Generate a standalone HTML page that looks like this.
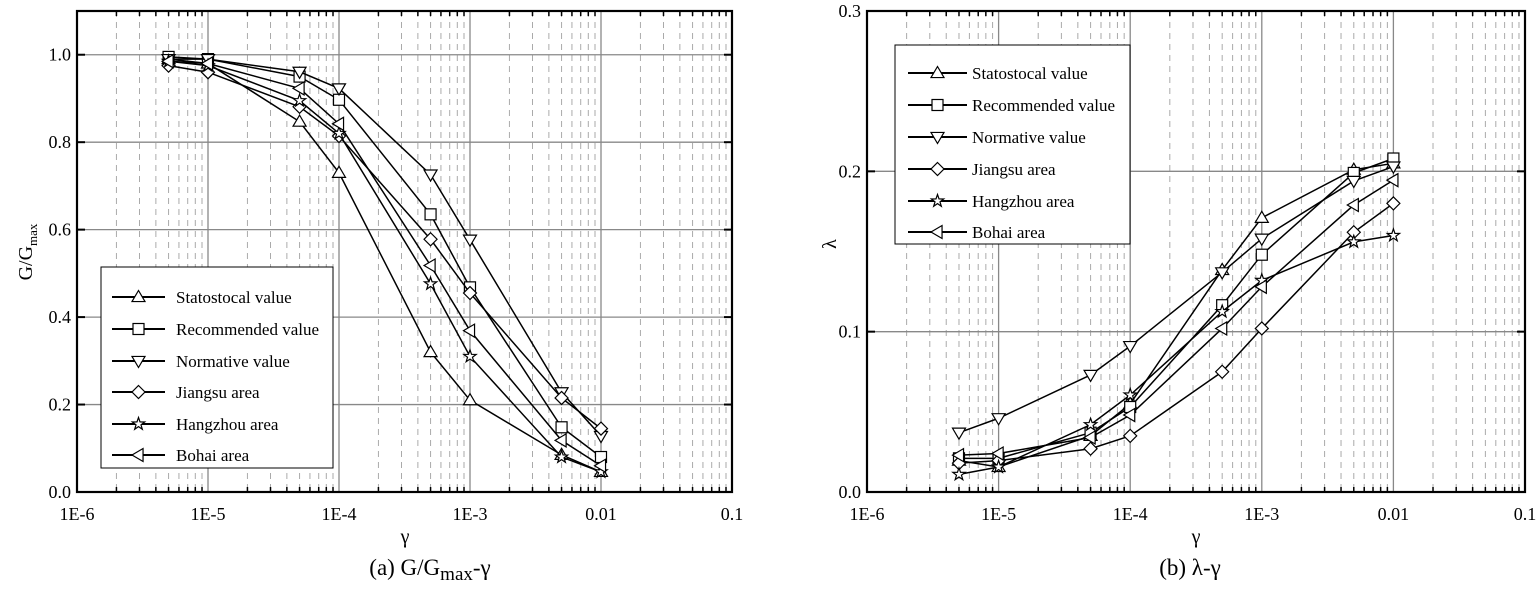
<!DOCTYPE html>
<html><head><meta charset="utf-8"><style>
html,body{margin:0;padding:0;background:#fff;}
svg{display:block;font-family:"Liberation Serif",serif;}
</style></head><body>
<svg id="svg" width="1536" height="593" viewBox="0 0 1536 593" xmlns="http://www.w3.org/2000/svg"></svg>
<script>
const strains = [5e-6, 1e-5, 5e-5, 1e-4, 5e-4, 1e-3, 5e-3, 1e-2];
const seriesNames = ["Statostocal value","Recommended value","Normative value","Jiangsu area","Hangzhou area","Bohai area"];
const seriesMarkers = ["tri-up","square","tri-down","diamond","star","tri-left"];
const gStat = [0.99,0.98,0.847,0.73,0.32,0.21,0.085,0.046];
const gRec = [0.995,0.99,0.95,0.897,0.635,0.468,0.148,0.08];
const gNorm = [0.99,0.99,0.961,0.923,0.726,0.577,0.228,0.128];
const gJiang = [0.975,0.96,0.881,0.814,0.578,0.455,0.215,0.145];
const gHang = [0.985,0.975,0.895,0.82,0.476,0.31,0.08,0.046];
const gBohai = [0.985,0.98,0.923,0.842,0.518,0.369,0.118,0.06];
const lStat = [0.0196,0.0156,0.035,0.055,0.1385,0.171,0.201,0.205];
const lRec = [0.021,0.021,0.037,0.053,0.1165,0.148,0.199,0.208];
const lNorm = [0.037,0.046,0.073,0.091,0.137,0.158,0.194,0.203];
const lJiang = [0.018,0.0196,0.027,0.035,0.075,0.102,0.162,0.180];
const lHang = [0.011,0.0156,0.042,0.0605,0.1125,0.132,0.156,0.160];
const lBohai = [0.023,0.024,0.034,0.048,0.102,0.128,0.179,0.1945];
const xTickLabels = ["1E-6","1E-5","1E-4","1E-3","0.01","0.1"];
const gTickLabels = ["0.0","0.2","0.4","0.6","0.8","1.0"];
const gTickValues = [0,0.2,0.4,0.6,0.8,1.0];
const lTickLabels = ["0.0","0.1","0.2","0.3"];
const lTickValues = [0,0.1,0.2,0.3];

const NS="http://www.w3.org/2000/svg";
const svg=document.getElementById('svg');
function el(tag,attrs,parent){const e=document.createElementNS(NS,tag);for(const k in attrs)e.setAttribute(k,attrs[k]);(parent||svg).appendChild(e);return e;}

function marker(g,type,x,y){
  const r=6.5;let pts;
  if(type==='square'){const m=el('rect',{x:x-5.5,y:y-5.5,width:11,height:11,fill:'#fff',stroke:'#000','stroke-width':1.2},g);return m;}
  if(type==='diamond')pts=[[x,y-r],[x+r,y],[x,y+r],[x-r,y]];
  if(type==='tri-up')pts=[[x,y-r],[x+r,y+r*0.7],[x-r,y+r*0.7]];
  if(type==='tri-down')pts=[[x,y+r],[x+r,y-r*0.7],[x-r,y-r*0.7]];
  if(type==='tri-left')pts=[[x-r,y],[x+r*0.7,y-r],[x+r*0.7,y+r]];
  if(type==='star'){pts=[];for(let i=0;i<10;i++){const a=-Math.PI/2+i*Math.PI/5;const rr=i%2?2.6:6.5;pts.push([x+rr*Math.cos(a),y+rr*Math.sin(a)]);}}
  return el('polygon',{points:pts.map(p=>p.join(',')).join(' '),fill:'#fff',stroke:'#000','stroke-width':1.2},g);
}

function chart(cfg){
  const {L,R,T,B,ymax,data,ticks,tickLabels,prefix}=cfg;
  const xs=v=>L+(Math.log10(v)+6)/5*(R-L);
  const ys=v=>B-v/ymax*(B-T);
  const g=el('g',{});
  
  const grid=el('g',{},g);
  for(let d=-6;d<-1;d++){for(let m=2;m<=9;m++){const x=xs(m*Math.pow(10,d));
    el('line',{x1:x,y1:T,x2:x,y2:B,stroke:'#aaa','stroke-width':1,'stroke-dasharray':'6,5'},grid);
    el('line',{x1:x,y1:B,x2:x,y2:B-5,stroke:'#000','stroke-width':1.5},grid);
    el('line',{x1:x,y1:T,x2:x,y2:T+5,stroke:'#000','stroke-width':1.5},grid);}}
  for(let d=-5;d<-1;d++){const x=xs(Math.pow(10,d));el('line',{x1:x,y1:T,x2:x,y2:B,stroke:'#888','stroke-width':1.3},grid);}
  ticks.forEach(v=>{const y=ys(v);if(v>0&&v<ymax)el('line',{x1:L,y1:y,x2:R,y2:y,stroke:'#888','stroke-width':1.3},grid);
    el('line',{x1:L,y1:y,x2:L+8,y2:y,stroke:'#000','stroke-width':2},grid);el('line',{x1:R,y1:y,x2:R-8,y2:y,stroke:'#000','stroke-width':2},grid);});
  const frame=el('rect',{x:L,y:T,width:R-L,height:B-T,fill:'none',stroke:'#000','stroke-width':2.2},g);
  
  // tick labels
  xTickLabels.forEach((t,i)=>{const tx=el('text',{x:L+i*(R-L)/5,y:B+28,'text-anchor':'middle','font-size':18},g);tx.textContent=t;
    });
  ticks.forEach((v,i)=>{const tx=el('text',{x:L-6,y:ys(v)+6,'text-anchor':'end','font-size':18},g);tx.textContent=tickLabels[i];
    });
  // series
  data.forEach((vals,si)=>{const sg=el('g',{},g);
    el('polyline',{points:vals.map((v,i)=>xs(strains[i])+','+ys(v)).join(' '),fill:'none',stroke:'#000','stroke-width':1.5},sg);
    vals.forEach((v,i)=>{const m=marker(sg,seriesMarkers[si],xs(strains[i]),ys(v));});});
  return {xs,ys};
}
function legend(prefix,bx,by,bw,bh,lx1,lx2,tx,rows){
  const g=el('g',{});
  el('rect',{x:bx,y:by,width:bw,height:bh,fill:'#fff',stroke:'#000','stroke-width':1},g);
  seriesNames.forEach((n,i)=>{const y=rows[i];const eg=el('g',{},g);
    el('line',{x1:lx1,y1:y,x2:lx2,y2:y,stroke:'#000','stroke-width':2},eg);marker(eg,seriesMarkers[i],(lx1+lx2)/2,y);
    const t=el('text',{x:tx,y:y+6,'font-size':17},eg);t.textContent=n;});
}
chart({L:77,R:732,T:11,B:492,ymax:1.1,data:[gStat,gRec,gNorm,gJiang,gHang,gBohai],ticks:gTickValues,tickLabels:gTickLabels,prefix:'g-gmax'});
legend('g-gmax',101,267,232,201,112,165,176,[297,329,361,392,424,455]);
chart({L:867,R:1525,T:11,B:492,ymax:0.3,data:[lStat,lRec,lNorm,lJiang,lHang,lBohai],ticks:lTickValues,tickLabels:lTickLabels,prefix:'lambda'});
legend('lambda',895,45,235,199,908,967,972,[73,105,137,169,201,232]);

function txt(name,attrs,s){const t=el('text',attrs);t.textContent=s;return t;}
txt('x-axis-title-a',{x:405,y:543,'text-anchor':'middle','font-size':20},'γ');
txt('x-axis-title-b',{x:1196,y:543,'text-anchor':'middle','font-size':20},'γ');
const yt=el('text',{transform:'translate(32,252) rotate(-90)','text-anchor':'middle','font-size':20});

yt.innerHTML='G/G<tspan font-size="13" dy="5">max</tspan>';
txt('y-axis-title-b',{x:830,y:250,'text-anchor':'middle','font-size':20,transform:'rotate(-90 830 244)'},'λ');
const c1=el('text',{x:430,y:575,'text-anchor':'middle','font-size':23});

c1.innerHTML='(a)  G/G<tspan font-size="19" dy="5">max</tspan><tspan dy="-5">-γ</tspan>';
txt('caption-b',{x:1190,y:575,'text-anchor':'middle','font-size':23},'(b)  λ-γ');
</script>
</body></html>
